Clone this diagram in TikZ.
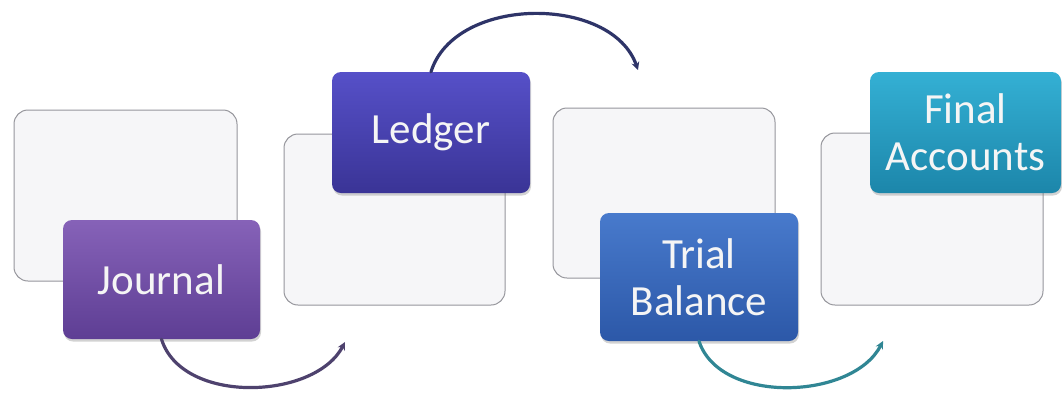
\documentclass[tikz,border=0pt]{standalone}
\usepackage{fontspec}
\setmainfont{Carlito}
\usetikzlibrary{arrows.meta,shadows}

\definecolor{panelfill}{RGB}{246,246,248}
\definecolor{panelline}{RGB}{150,150,156}
\definecolor{journaltop}{RGB}{134,98,184}
\definecolor{journalbot}{RGB}{94,62,148}
\definecolor{ledgertop}{RGB}{86,80,200}
\definecolor{ledgerbot}{RGB}{58,52,150}
\definecolor{trialtop}{RGB}{72,122,204}
\definecolor{trialbot}{RGB}{44,88,168}
\definecolor{finaltop}{RGB}{52,176,212}
\definecolor{finalbot}{RGB}{28,134,170}
\definecolor{arcpurple}{RGB}{78,66,110}
\definecolor{arcnavy}{RGB}{46,52,104}
\definecolor{arcteal}{RGB}{48,134,148}

\tikzset{
  panel/.style={draw=panelline, line width=1pt, fill=panelfill,
    rounded corners=14pt, minimum width=#1, inner sep=0pt},
  stage/.style={rounded corners=9pt, inner sep=0pt, text=white!96!black,
    align=center, font={\fontsize{43}{47}\selectfont},
    drop shadow={shadow xshift=1pt, shadow yshift=-2.5pt, opacity=0.35}},
  flow/.style={line width=3.2pt, line cap=round,
    -{Stealth[length=8pt,width=8pt]}},
}

\begin{document}
\begin{tikzpicture}[x=1pt,y=-1pt]
  \useasboundingbox[fill=white] (0,0) rectangle (1062,392);

  % background panels
  \node[panel=223pt, minimum height=171pt] (p1) at (125.5,195.5) {};
  \node[panel=221pt, minimum height=171pt] (p2) at (394.5,219.5) {};
  \node[panel=222pt, minimum height=170pt] (p3) at (664,193) {};
  \node[panel=222pt, minimum height=172pt] (p4) at (932,219) {};

  % coloured stage boxes
  \node[stage, top color=journaltop, bottom color=journalbot,
        minimum width=197pt, minimum height=119pt] (journal) at (161.5,279.5) {Journal};
  \node[stage, top color=ledgertop, bottom color=ledgerbot,
        minimum width=198pt, minimum height=121pt] (ledger) at (431,132.5) {Ledger};
  \node[stage, top color=trialtop, bottom color=trialbot,
        minimum width=198pt, minimum height=128pt] (trial) at (699,277) {Trial\\Balance};
  \node[stage, top color=finaltop, bottom color=finalbot,
        minimum width=191pt, minimum height=121pt] (final) at (965.5,132.5) {Final\\Accounts};

  % arrow ends
  \coordinate (e1) at (345,342);
  \coordinate (e2) at (638,70);
  \coordinate (e3) at (883,341);

  % curved connectors
  \draw[flow, draw=arcpurple] (journal.south) .. controls (182,405) and (315,400) .. (e1);
  \draw[flow, draw=arcnavy] (ledger.north) .. controls (455,-5) and (612,-5) .. (e2);
  \draw[flow, draw=arcteal] (trial.south) .. controls (720,405) and (853,400) .. (e3);
\end{tikzpicture}
\end{document}
